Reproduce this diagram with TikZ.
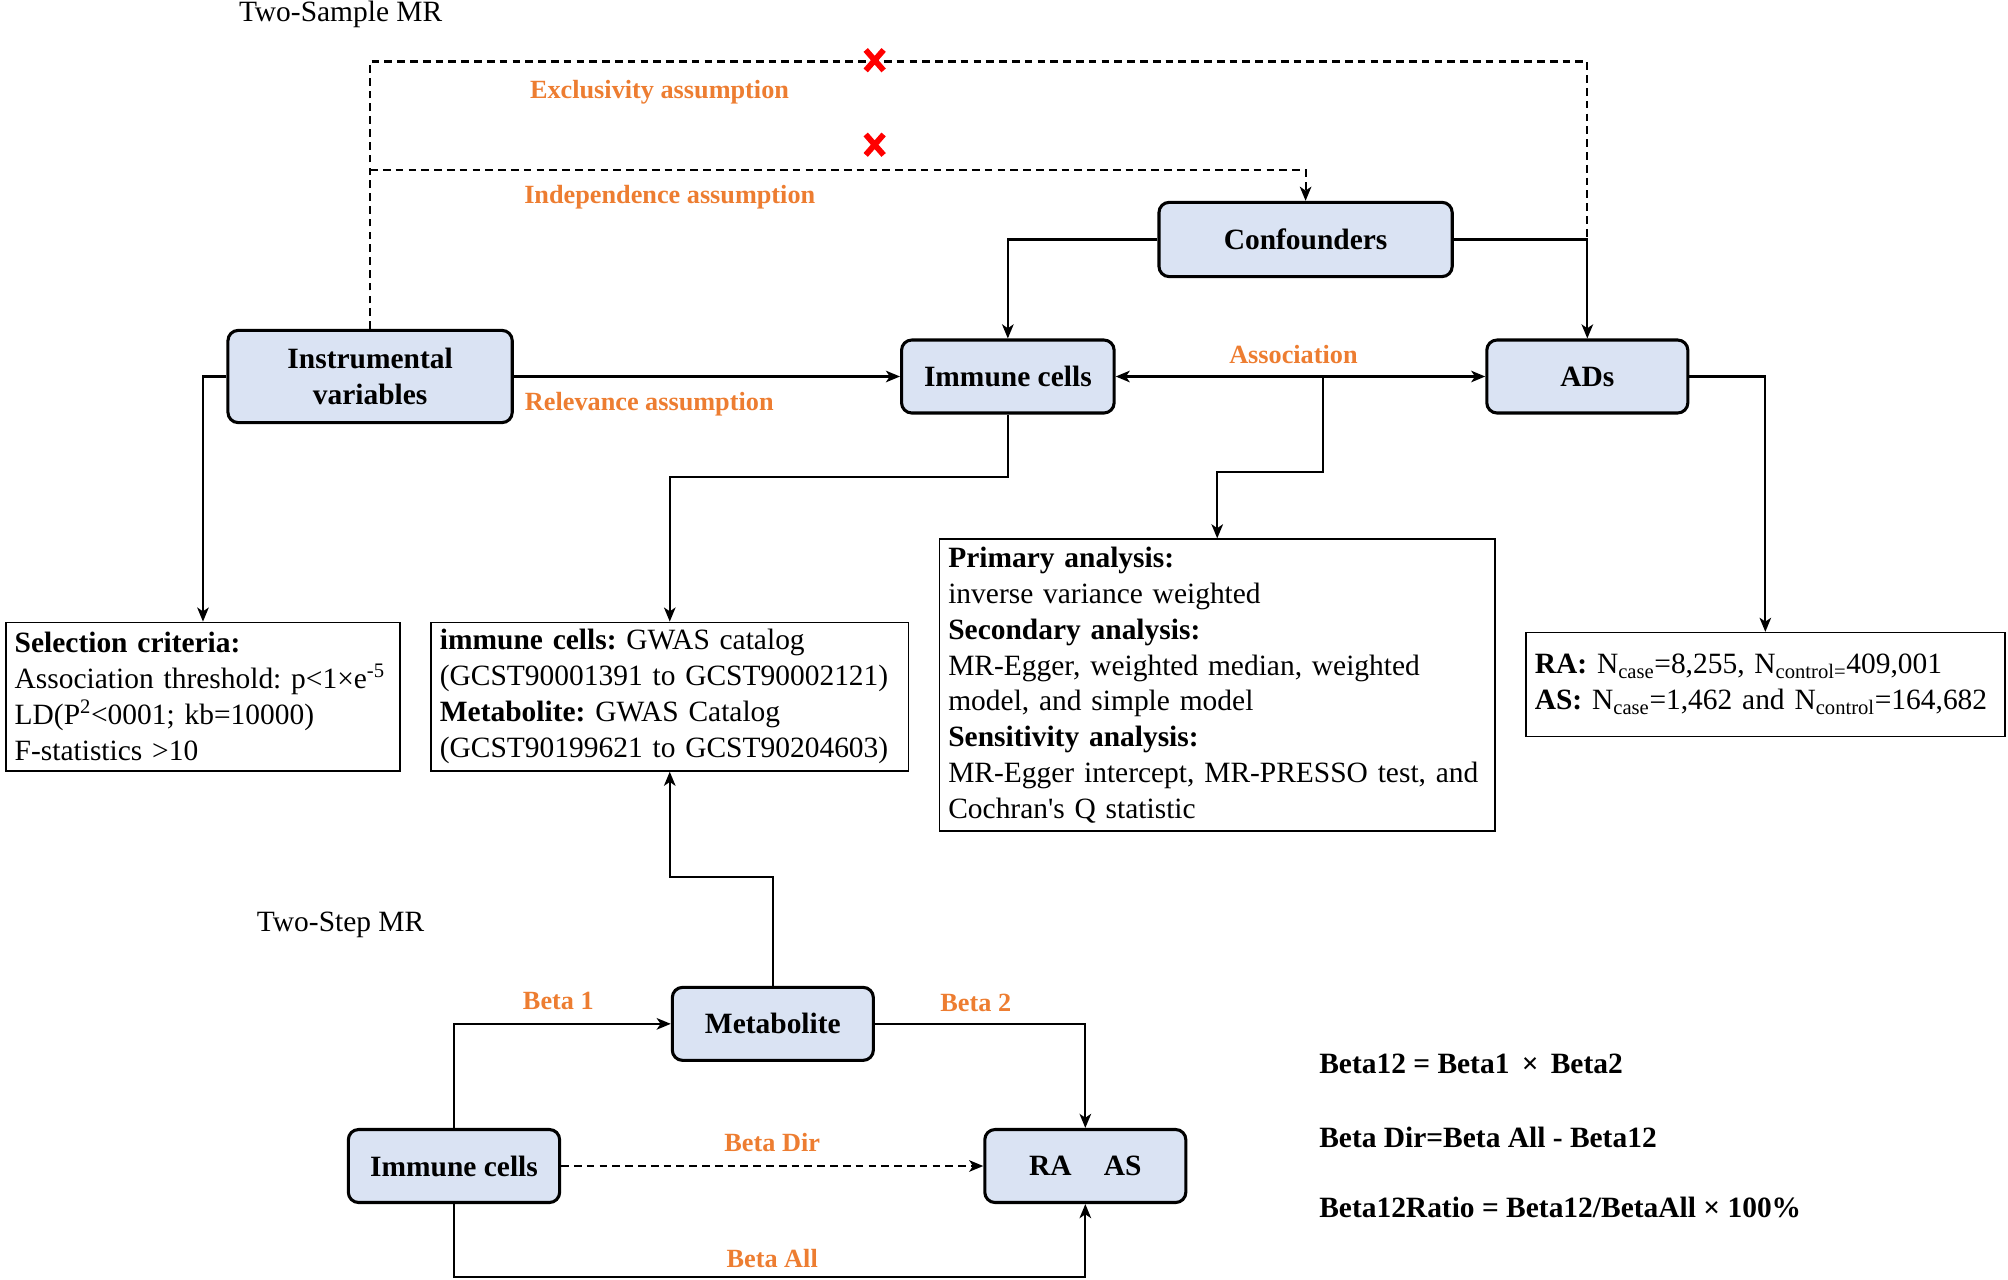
\documentclass[tikz,border=0pt]{standalone}
\usepackage{fontspec}
\setmainfont{Liberation Serif}
\usetikzlibrary{arrows.meta,positioning}
\definecolor{boxblue}{HTML}{DAE3F3}
\definecolor{labelorange}{HTML}{ED7D31}
\frenchspacing

\begin{document}
\begin{tikzpicture}[x=1pt,y=-1pt,on grid,line width=1.7pt,>={Stealth[length=11pt,width=9pt,inset=3pt]},
   mrnode/.style={draw,line width=2.4pt,rounded corners=8pt,fill=boxblue,align=center,
      font=\fontsize{23}{28}\selectfont\bfseries,minimum height=57pt,inner sep=0pt},
   infobox/.style={draw,line width=1.2pt,align=left,font=\fontsize{23}{28}\selectfont,
      inner xsep=7pt,inner ysep=3pt},
   orangelab/.style={text=labelorange,font=\fontsize{20.5}{24}\selectfont\bfseries},
   sectitle/.style={font=\fontsize{23}{26}\selectfont},
   formula/.style={anchor=west,font=\fontsize{23}{26}\selectfont\bfseries},
   dashline/.style={dash pattern=on 6pt off 4pt},
   redcross/.style={red,line width=4.5pt}]
   \useasboundingbox (0,0) rectangle (1568,999);

   % Two-sample part
   \node[sectitle] (tsample) at (266,11) {Two-Sample MR};
   \node[mrnode,minimum width=222pt,minimum height=72pt] (iv) at (289,294) {Instrumental\\variables};
   \node[mrnode,minimum width=166pt] (imm) [right=498pt of iv] {Immune cells};
   \node[mrnode,minimum width=157pt] (ads) [right=452.5pt of imm] {ADs};
   \node[mrnode,minimum width=229pt,minimum height=58pt] (conf) [above right=107pt and 232.5pt of imm] {Confounders};

   \node[infobox,text width=294pt,minimum height=116pt] (sel) at (158.5,544)
      {\textbf{Selection criteria:}\\
       Association threshold: p<1×e\textsuperscript{-5}\\
       LD(P\textsuperscript{2}<0001; kb=10000)\\
       F-statistics >10};
   \node[infobox,text width=359pt,minimum height=116pt] (src) at (523,544)
      {\textbf{immune cells:} GWAS catalog\\
       (GCST90001391 to GCST90002121)\\
       \textbf{Metabolite:} GWAS Catalog\\
       (GCST90199621 to GCST90204603)};
   \node[infobox,text width=420pt,minimum height=228pt] (prim) at (950.5,535)
      {\textbf{Primary analysis:}\\
       inverse variance weighted\\
       \textbf{Secondary analysis:}\\
       MR-Egger, weighted median, weighted\\
       model, and simple model\\
       \textbf{Sensitivity analysis:}\\
       MR-Egger intercept, MR-PRESSO test, and\\
       Cochran\textquotesingle s Q statistic};
   \node[infobox,text width=360pt,minimum height=81pt] (ra) at (1378.5,534.5)
      {\textbf{RA:} N\textsubscript{case}=8,255, N\textsubscript{control=}409,001\\
       \textbf{AS:} N\textsubscript{case}=1,462 and N\textsubscript{control}=164,682};

   \node[orangelab] (exlab) at (515,72) {Exclusivity assumption};
   \node[orangelab] (indlab) at (523,154) {Independence assumption};
   \node[orangelab] (rellab) at (507,316) {Relevance assumption};
   \node[orangelab] (asslab) at (1010,277) {Association};

   \coordinate (exl) at (683,48);
   \coordinate (ind) at (683,133);
   \coordinate (assoc) at (1033,293.5);

   \draw[dashline] (iv.north) |- (exl) -| (ads.north |- conf.east);
   \draw[->,dashline] (iv.north |- ind) -| (conf.north);
   \draw[->] (conf.west) -| (imm.north);
   \draw[->] (conf.east) -| (ads.north);
   \draw[->] (iv.east) -- (imm.west);
   \draw[<->] (imm.east) -- (ads.west);
   \draw[->] (assoc) -- ++(0,75) -| (prim.north);
   \draw[->] (imm.south) -- ++(0,49) -| (src.north);
   \draw[->] (iv.west) -| (sel.north);
   \draw[->] (ads.east) -| (ra.north);

   % crosses on the two violated paths
   \foreach \c in {(683,47),(683,113)}
      \draw[redcross] \c ++(-7,-8) -- ++(14,16) \c ++(7,-8) -- ++(-14,16);

   % Two-step part
   \node[sectitle] (tstep) at (266,722) {Two-Step MR};
   \node[mrnode,minimum width=157pt] (met) at (603.5,799.5) {Metabolite};
   \node[mrnode,minimum width=165pt] (imm2) [below left=111pt and 249pt of met] {Immune cells};
   \node[mrnode,minimum width=157pt] (raas) [below right=111pt and 244pt of met] {RA\hspace{1.1em}AS};

   \node[orangelab] (b1) at (436,782) {Beta 1};
   \node[orangelab] (b2) at (762,783) {Beta 2};
   \node[orangelab] (bdir) at (603,892) {Beta Dir};
   \node[orangelab] (ball) at (603,983) {Beta All};

   \draw[->] (met.north) -- ++(0,-85) -| (src.south);
   \draw[->] (imm2.north) |- (met.west);
   \draw[->] (met.east) -| (raas.north);
   \draw[->,dashline] (imm2.east) -- (raas.west);
   \draw[->] (imm2.south) -- ++(0,57) -| (raas.south);

   \node[formula] (f1) at (1026,831) {Beta12 = Beta1 \,×\, Beta2};
   \node[formula] (f2) at (1026,888) {Beta Dir=Beta All - Beta12};
   \node[formula] (f3) at (1026,943) {Beta12Ratio = Beta12/BetaAll × 100\%};
\end{tikzpicture}
\end{document}
